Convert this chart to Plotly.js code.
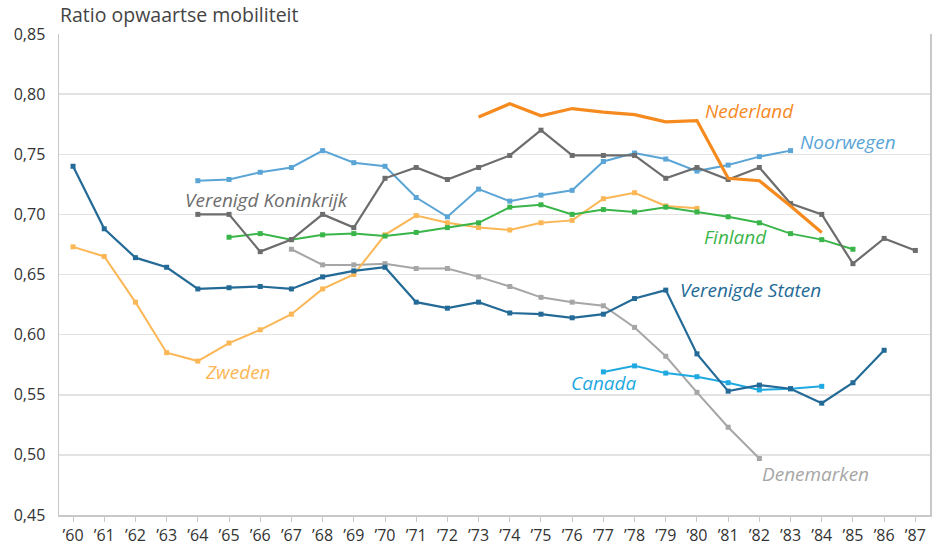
<!DOCTYPE html>
<html>
<head>
<meta charset="utf-8">
<script src="https://cdn.plot.ly/plotly-3.0.1.min.js"></script>
<style>html,body{margin:0;padding:0;background:#fff;}#chart{width:934px;height:545px;}</style>
</head>
<body>
<div id="chart"></div>
<script>
const years = [60,61,62,63,64,65,66,67,68,69,70,71,72,73,74,75,76,77,78,79,80,81,82,83,84,85,86,87];
const tickLabels = ["’60","’61","’62","’63","’64","’65","’66","’67","’68","’69","’70","’71","’72","’73","’74","’75","’76","’77","’78","’79","’80","’81","’82","’83","’84","’85","’86","’87"];

const usYears = [60,61,62,63,64,65,66,67,68,69,70,71,72,73,74,75,76,77,78,79,80,81,82,83,84,85,86];
const usValues = [0.740,0.688,0.664,0.656,0.638,0.639,0.640,0.638,0.648,0.653,0.656,0.627,0.622,0.627,0.618,0.617,0.614,0.617,0.630,0.637,0.584,0.553,0.558,0.555,0.543,0.560,0.587];

const caYears = [77,78,79,80,81,82,83,84];
const caValues = [0.569,0.574,0.568,0.565,0.560,0.554,0.555,0.557];

const dkYears = [67,68,69,70,71,72,73,74,75,76,77,78,79,80,81,82];
const dkValues = [0.671,0.658,0.658,0.659,0.655,0.655,0.648,0.640,0.631,0.627,0.624,0.606,0.582,0.552,0.523,0.497];

const seYears = [60,61,62,63,64,65,66,67,68,69,70,71,72,73,74,75,76,77,78,79,80];
const seValues = [0.673,0.665,0.627,0.585,0.578,0.593,0.604,0.617,0.638,0.650,0.683,0.699,0.693,0.689,0.687,0.693,0.695,0.713,0.718,0.707,0.705];

const fiYears = [65,66,67,68,69,70,71,72,73,74,75,76,77,78,79,80,81,82,83,84,85];
const fiValues = [0.681,0.684,0.679,0.683,0.684,0.682,0.685,0.689,0.693,0.706,0.708,0.700,0.704,0.702,0.706,0.702,0.698,0.693,0.684,0.679,0.671];

const ukYears = [64,65,66,67,68,69,70,71,72,73,74,75,76,77,78,79,80,81,82,83,84,85,86,87];
const ukValues = [0.700,0.700,0.669,0.679,0.700,0.689,0.730,0.739,0.729,0.739,0.749,0.770,0.749,0.749,0.749,0.730,0.739,0.729,0.739,0.709,0.700,0.659,0.680,0.670];

const noYears = [64,65,66,67,68,69,70,71,72,73,74,75,76,77,78,79,80,81,82,83];
const noValues = [0.728,0.729,0.735,0.739,0.753,0.743,0.740,0.714,0.698,0.721,0.711,0.716,0.720,0.744,0.751,0.746,0.736,0.741,0.748,0.753];

const nlYears = [73,74,75,76,77,78,79,80,81,82,83,84];
const nlValues = [0.781,0.792,0.782,0.788,0.785,0.783,0.777,0.778,0.730,0.728,0.707,0.685];

const labelNames = ["Nederland","Noorwegen","Verenigd Koninkrijk","Finland","Verenigde Staten","Zweden","Canada","Denemarken"];
const labelX = [81.67,84.84,66.19,81.25,81.7,65.29,77.02,83.81];
const labelY = [0.786,0.760,0.712,0.681,0.6375,0.569,0.560,0.484];
const labelColors = ["#f58a1f","#5aa5d6","#6d6d6d","#3ab54a","#236a97","#fbb756","#1fa9e1","#a6a6a6"];

function series(x, y, color, width, marker) {
  return {
    x: x, y: y, type: 'scatter',
    mode: marker ? 'lines+markers' : 'lines',
    line: {color: color, width: width},
    marker: {symbol: 'square', size: 5, color: color},
    hoverinfo: 'x+y', showlegend: false
  };
}

const data = [
  series(dkYears, dkValues, "#a6a6a6", 2, true),
  series(seYears, seValues, "#fbb756", 2, true),
  series(caYears, caValues, "#1fa9e1", 2, true),
  series(usYears, usValues, "#236a97", 2.2, true),
  series(fiYears, fiValues, "#3ab54a", 2, true),
  series(noYears, noValues, "#5aa5d6", 2, true),
  series(ukYears, ukValues, "#6d6d6d", 2.2, true),
  series(nlYears, nlValues, "#f58a1f", 3.2, false)
];

const annotations = labelNames.map((t, i) => ({
  x: labelX[i], y: labelY[i], xref: 'x', yref: 'y',
  text: '<i>' + t + '</i>', showarrow: false,
  font: {family: 'Open Sans, sans-serif', size: 19, color: labelColors[i]},
  xanchor: 'center', yanchor: 'middle'
}));

const layout = {
  width: 934, height: 545,
  margin: {l: 59, r: 4, t: 34, b: 30},
  paper_bgcolor: '#fff', plot_bgcolor: '#fff',
  separators: ', ',
  title: {
    text: 'Ratio opwaartse mobiliteit',
    xref: 'container', yref: 'container',
    x: 60/934, xanchor: 'left', y: 1 - 15/545, yanchor: 'middle',
    font: {family: 'Open Sans, sans-serif', size: 19.5, color: '#444'}
  },
  xaxis: {
    range: [59.55, 87.47],
    tickvals: years, ticktext: tickLabels,
    showgrid: false, zeroline: false,
    showline: true, linecolor: '#c8c8c8', linewidth: 1.5,
    ticks: 'outside', ticklen: 5, tickcolor: '#c8c8c8',
    tickfont: {family: 'Open Sans, sans-serif', size: 16, color: '#333'},
    fixedrange: true
  },
  yaxis: {
    range: [0.45, 0.85],
    dtick: 0.05, tick0: 0.45, tickformat: '.2f',
    showgrid: true, gridcolor: '#e3e3e3', gridwidth: 1.5,
    zeroline: false,
    showline: true, linecolor: '#c8c8c8', linewidth: 1.5, mirror: true,
    ticks: '', ticklabelstandoff: 9,
    tickfont: {family: 'Open Sans, sans-serif', size: 16, color: '#333'},
    fixedrange: true
  },
  annotations: annotations
};

Plotly.newPlot('chart', data, layout, {displayModeBar: false, staticPlot: true});
</script>
</body>
</html>
